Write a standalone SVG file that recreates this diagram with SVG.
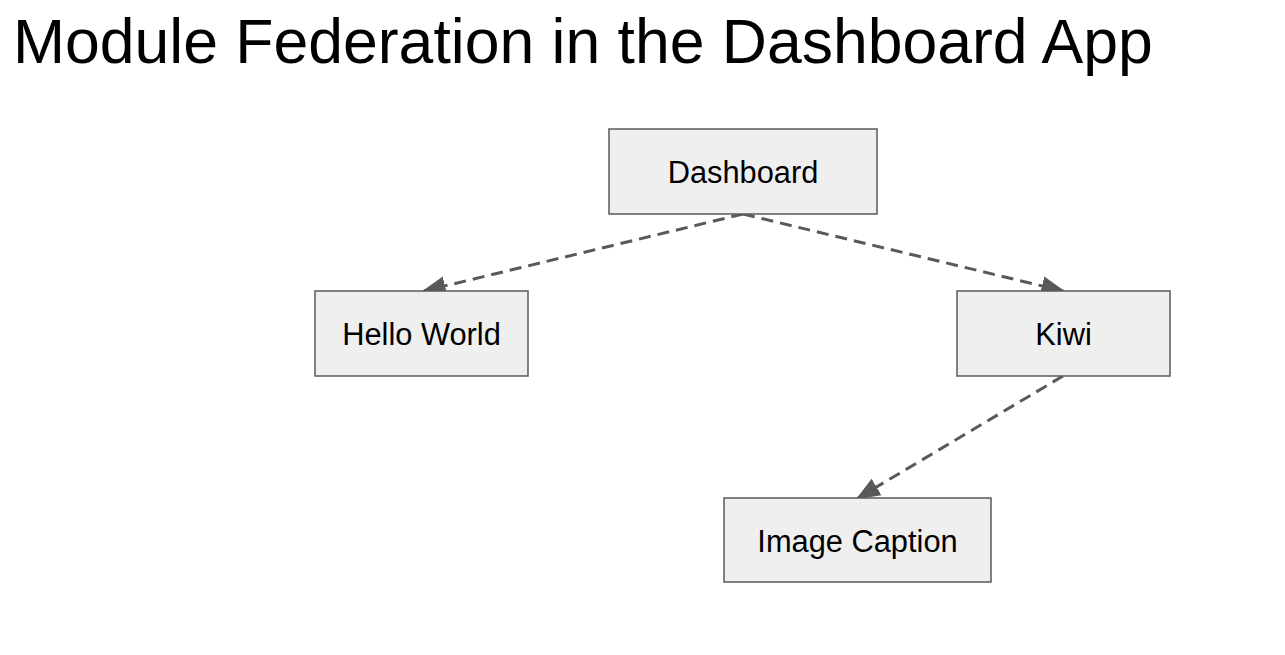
<svg xmlns="http://www.w3.org/2000/svg" width="1285" height="655" viewBox="0 0 1285 655">
<style>
.box{fill:#efefef;stroke:#595959;stroke-width:1.5}
.lbl{font-family:"Liberation Sans",Arial,sans-serif;font-size:30.8px;fill:#000;text-anchor:middle}
.edge{fill:none;stroke:#595959;stroke-width:3;stroke-dasharray:12,7}
</style>
<defs>
<marker id="arr" viewBox="0 0 10 10" refX="9" refY="5" markerWidth="8" markerHeight="8" orient="auto">
<path d="M0,1 L10,5 L0,9 z" fill="#595959"/>
</marker>
</defs>
<rect width="1285" height="655" fill="#fff"/>
<text x="13" y="63" font-family="'Liberation Sans',Arial,sans-serif" font-size="62.5" fill="#000">Module Federation in the Dashboard App</text>
<g id="connectors">
<path class="edge" d="M743,214 L424,291" marker-end="url(#arr)"/>
<path class="edge" d="M743,214 L1063,291" marker-end="url(#arr)"/>
<path class="edge" d="M1063,376 L858,498" marker-end="url(#arr)"/>
</g>
<g id="dashboard"><rect class="box" x="609" y="129" width="268" height="85"/><text class="lbl" x="743" y="183">Dashboard</text></g>
<g id="hello-world"><rect class="box" x="315" y="291" width="213" height="85"/><text class="lbl" x="421.5" y="345">Hello World</text></g>
<g id="kiwi"><rect class="box" x="957" y="291" width="213" height="85"/><text class="lbl" x="1063.5" y="345">Kiwi</text></g>
<g id="image-caption"><rect class="box" x="724" y="498" width="267" height="84"/><text class="lbl" x="857.5" y="552">Image Caption</text></g>
</svg>
